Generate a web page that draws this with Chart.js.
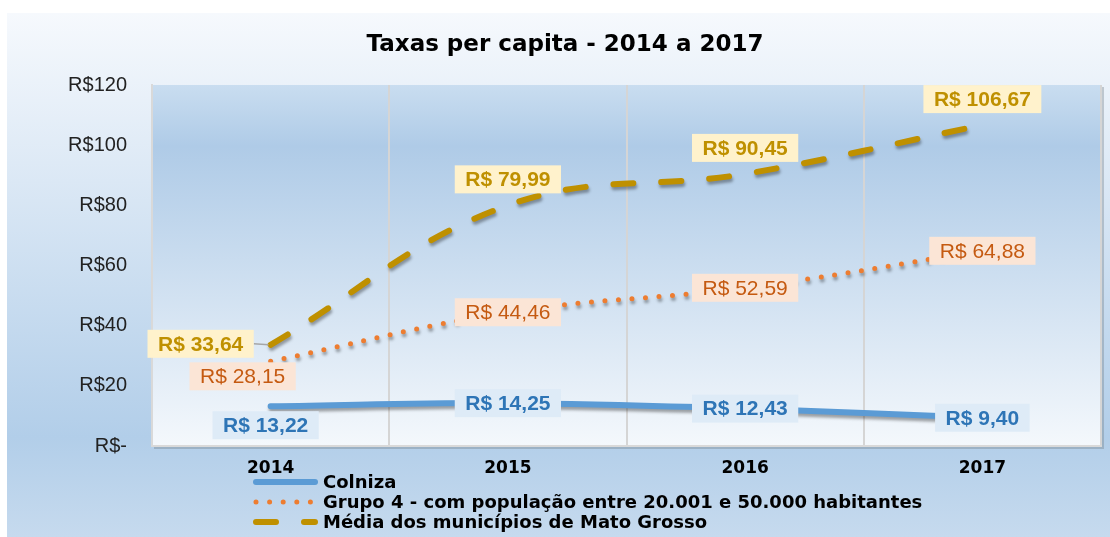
<!DOCTYPE html>
<html lang="pt-BR">
<head>
<meta charset="utf-8">
<title>Taxas per capita - 2014 a 2017</title>
<script src="https://cdn.jsdelivr.net/npm/chart.js@4.4.1/dist/chart.umd.min.js"></script>
<style>
  html, body { margin: 0; padding: 0; background: #ffffff; }
  canvas { display: block; }
</style>
</head>
<body>
<canvas id="taxasChart" width="1110" height="537"></canvas>
<script>
const anos = ["2014", "2015", "2016", "2017"];
const colniza = [13.22, 14.25, 12.43, 9.4];
const grupo4 = [28.15, 44.46, 52.59, 64.88];
const mediaMT = [33.64, 79.99, 90.45, 106.67];
const yTicks = [0, 20, 40, 60, 80, 100, 120];
const yTickLabels = ["R$-", "R$20", "R$40", "R$60", "R$80", "R$100", "R$120"];
const seriesNames = [
  "Colniza",
  "Grupo 4 - com população entre 20.001 e 50.000 habitantes",
  "Média dos municípios de Mato Grosso",
];

// where each value box sits relative to its point (dx, dy)
const labelStyles = [
  { box: "#deebf7", text: "#2e75b6", weight: "bold", offsets: [[-5, 19], [0, 0], [0, 0], [0, 0]] },
  { box: "#fbe5d6", text: "#c55a11", weight: "normal", offsets: [[-28, 15], [0, 0], [0, 0], [0, 0]] },
  { box: "#fff2cc", text: "#bf9000", weight: "bold", offsets: [[-70, -1], [0, -26], [0, -26], [0, -26]] },
];

function formatReal(v) {
  return "R$ " + v.toFixed(2).replace(".", ",");
}

const backgroundPlugin = {
  id: "fundo",
  beforeDraw(chart) {
    const { ctx, chartArea: a, width, height } = chart;
    ctx.save();
    ctx.fillStyle = "#ffffff";
    ctx.fillRect(0, 0, width, height);

    const g = ctx.createLinearGradient(0, 13, 0, height);
    g.addColorStop(0, "#f6f9fd");
    g.addColorStop(0.81, "#b2cee9");
    g.addColorStop(1, "#c6daee");
    ctx.fillStyle = g;
    ctx.fillRect(7, 13, width - 7, height - 13);

    ctx.fillStyle = "rgba(110,120,130,0.35)";
    ctx.fillRect(a.left + 2, a.top + 2, a.width + 1, a.height + 1);

    const p = ctx.createLinearGradient(0, a.top, 0, a.bottom);
    p.addColorStop(0, "#c9ddf0");
    p.addColorStop(0.17, "#afcbe7");
    p.addColorStop(1, "#f4f8fc");
    ctx.fillStyle = p;
    ctx.fillRect(a.left, a.top, a.width, a.height);

    ctx.fillStyle = "#000000";
    ctx.font = "bold 23px 'DejaVu Sans'";
    ctx.textAlign = "center";
    ctx.textBaseline = "middle";
    ctx.fillText("Taxas per capita - 2014 a 2017", 565, 45);
    ctx.restore();
  },
};

const shadowPlugin = {
  id: "sombra",
  beforeDatasetDraw(chart) {
    const ctx = chart.ctx;
    ctx.save();
    ctx.shadowColor = "rgba(0,0,0,0.35)";
    ctx.shadowBlur = 3;
    ctx.shadowOffsetX = 1;
    ctx.shadowOffsetY = 3;
  },
  afterDatasetDraw(chart) {
    chart.ctx.restore();
  },
};

const valueBoxPlugin = {
  id: "rotulos",
  afterDatasetsDraw(chart) {
    const ctx = chart.ctx;
    ctx.save();
    ctx.textAlign = "center";
    ctx.textBaseline = "middle";
    chart.data.datasets.forEach((ds, i) => {
      const meta = chart.getDatasetMeta(i);
      const st = labelStyles[i];
      ctx.font = st.weight + " 21px 'Liberation Sans', Arial, sans-serif";
      meta.data.forEach((pt, j) => {
        const text = formatReal(ds.data[j]);
        const [dx, dy] = st.offsets[j];
        const cx = pt.x + dx;
        const cy = pt.y + dy;
        const w = ctx.measureText(text).width + 21;
        const h = 28;
        if (dx < -40) {
          ctx.strokeStyle = "#a6a6a6";
          ctx.lineWidth = 1.5;
          ctx.beginPath();
          ctx.moveTo(cx + w / 2, cy);
          ctx.lineTo(pt.x - 2, pt.y);
          ctx.stroke();
        }
        ctx.fillStyle = st.box;
        ctx.fillRect(cx - w / 2, cy - h / 2, w, h);
        ctx.fillStyle = st.text;
        ctx.fillText(text, cx, cy + 1);
      });
    });
    ctx.restore();
  },
};

const legendPlugin = {
  id: "legendaEmPilha",
  afterDraw(chart) {
    const ctx = chart.ctx;
    ctx.save();
    chart.data.datasets.forEach((ds, i) => {
      const y = 482 + i * 20;
      ctx.strokeStyle = ds.borderColor;
      ctx.lineWidth = ds.borderWidth;
      ctx.lineCap = "round";
      ctx.setLineDash(ds.borderDash || []);
      ctx.beginPath();
      ctx.moveTo(256, y);
      ctx.lineTo(i === 1 ? 312 : 315, y);
      ctx.stroke();
      ctx.setLineDash([]);
      ctx.fillStyle = "#000000";
      ctx.font = "bold 18px 'DejaVu Sans'";
      ctx.textAlign = "left";
      ctx.textBaseline = "middle";
      ctx.fillText(ds.label, 323, y + 1);
    });
    ctx.restore();
  },
};

function initChart() {
  const ctx = document.getElementById("taxasChart").getContext("2d");
  new Chart(ctx, {
    type: "line",
    data: {
      labels: anos,
      datasets: [
        {
          label: seriesNames[0],
          data: colniza,
          borderColor: "#5b9bd5",
          borderWidth: 6,
          borderCapStyle: "round",
          borderJoinStyle: "round",
          pointRadius: 0,
          tension: 0.4,
        },
        {
          label: seriesNames[1],
          data: grupo4,
          borderColor: "#ed7d31",
          borderWidth: 5,
          borderDash: [0, 13.6],
          borderCapStyle: "round",
          borderJoinStyle: "round",
          pointRadius: 0,
          tension: 0.4,
        },
        {
          label: seriesNames[2],
          data: mediaMT,
          borderColor: "#bf9000",
          borderWidth: 6,
          borderDash: [20, 28],
          borderCapStyle: "round",
          borderJoinStyle: "round",
          pointRadius: 0,
          tension: 0.4,
        },
      ],
    },
    options: {
      responsive: false,
      animation: false,
      devicePixelRatio: 1,
      layout: { padding: { top: 85, right: 9, bottom: 0, left: 0 } },
      plugins: {
        legend: { display: false },
        title: { display: false },
        tooltip: { enabled: false },
      },
      scales: {
        x: {
          offset: true,
          grid: { offset: true, color: "#d5d5d5", lineWidth: 2, drawTicks: false },
          border: { color: "#d9d9d9", width: 2 },
          ticks: {
            color: "#000000",
            padding: 12,
            font: { family: "DejaVu Sans", size: 17, weight: "bold" },
          },
          afterFit(scale) {
            scale.height = 91;
          },
        },
        y: {
          min: 0,
          max: 120,
          grid: { display: false, drawTicks: false },
          border: { display: true, color: "#d9d9d9", width: 2 },
          afterBuildTicks(scale) {
            scale.ticks = yTicks.map((v) => ({ value: v }));
          },
          ticks: {
            color: "#222222",
            padding: 25,
            font: { family: "Liberation Sans", size: 20 },
            callback: (value) => yTickLabels[yTicks.indexOf(value)] ?? "",
          },
          afterFit(scale) {
            scale.width = 152;
          },
        },
      },
    },
    plugins: [backgroundPlugin, shadowPlugin, valueBoxPlugin, legendPlugin],
  });
}

document.addEventListener("DOMContentLoaded", initChart);
</script>
</body>
</html>
